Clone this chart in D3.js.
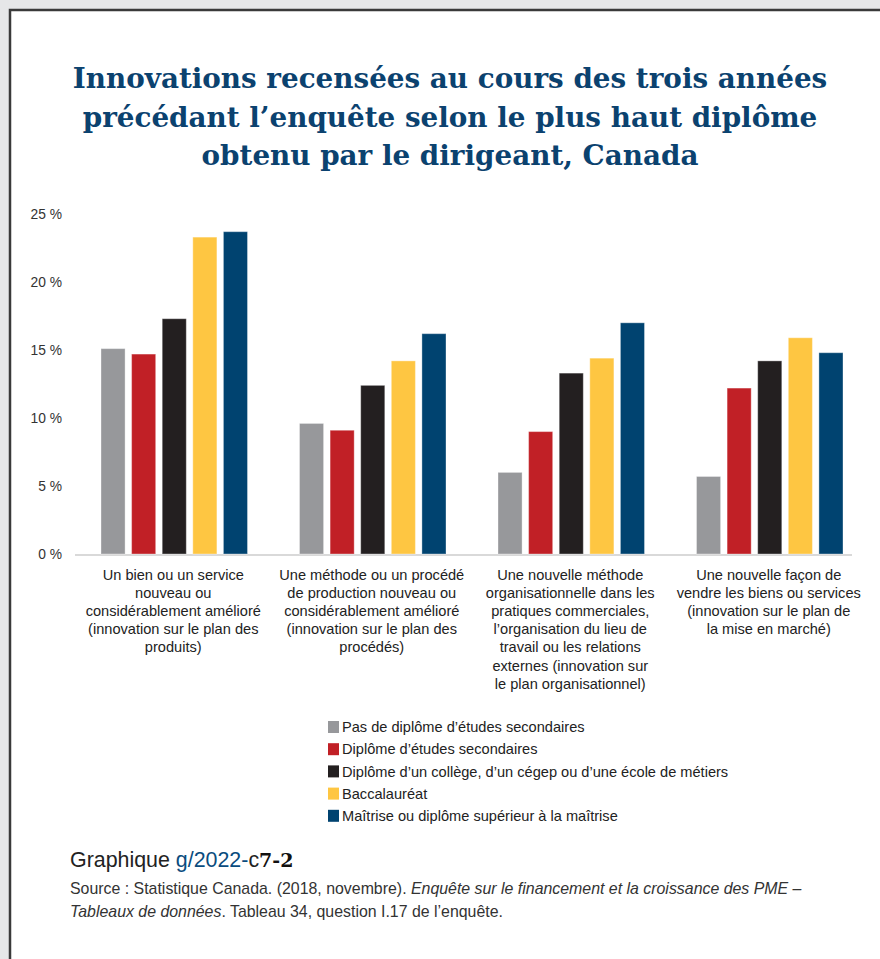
<!DOCTYPE html>
<html><head><meta charset="utf-8">
<script src="https://cdn.jsdelivr.net/npm/d3@7"></script>
<style>
html,body{margin:0;padding:0;background:#e6e7e8;}
svg{display:block;}
</style></head>
<body>
<svg id="c" width="880" height="959"></svg>
<script>
const titleLines = ["Innovations recensées au cours des trois années","précédant l’enquête selon le plus haut diplôme","obtenu par le dirigeant, Canada"];
const categories = [
 ["Un bien ou un service","nouveau ou","considérablement amélioré","(innovation sur le plan des","produits)"],
 ["Une méthode ou un procédé","de production nouveau ou","considérablement amélioré","(innovation sur le plan des","procédés)"],
 ["Une nouvelle méthode","organisationnelle dans les","pratiques commerciales,","l’organisation du lieu de","travail ou les relations","externes (innovation sur","le plan organisationnel)"],
 ["Une nouvelle façon de","vendre les biens ou services","(innovation sur le plan de","la mise en marché)"]
];
const seriesNames = ["Pas de diplôme d’études secondaires","Diplôme d’études secondaires","Diplôme d’un collège, d’un cégep ou d’une école de métiers","Baccalauréat","Maîtrise ou diplôme supérieur à la maîtrise"];
const seriesColors = ["#97989b","#c12026","#231f20","#fec642","#004370"];
const noDiploma   = [15.1, 9.6, 6.0, 5.7];
const secondary   = [14.7, 9.1, 9.0, 12.2];
const college     = [17.3, 12.4, 13.3, 14.2];
const bachelor    = [23.3, 14.2, 14.4, 15.9];
const master      = [23.7, 16.2, 17.0, 14.8];
const yTicks = [0,5,10,15,20,25];

const values = [noDiploma, secondary, college, bachelor, master];
const svg = d3.select("#c");
const SANS = "'Liberation Sans', Arial, sans-serif";
const NARROW = "'Liberation Sans Narrow','Arial Narrow','Liberation Sans', sans-serif";

// panel
svg.append("rect").attr("x",10).attr("y",10).attr("width",880).attr("height",960)
  .attr("fill","#fff").attr("stroke","#3a3a3a").attr("stroke-width",2.5);

// title
const tt = svg.append("g").selectAll("text").data(titleLines).join("text")
  .attr("x",450).attr("y",(d,i)=>88+i*38.5)
  .attr("text-anchor","middle")
  .attr("font-family","'DejaVu Serif', serif").attr("font-weight","bold")
  .attr("font-size",29).attr("fill","#0b426f")
  .text(d=>d);
const w0 = tt.nodes()[0].getComputedTextLength();
tt.attr("font-size",29*755/w0);

// scales
const y = d3.scaleLinear().domain([0,25]).range([554,214]);
const x0 = d3.scaleBand().domain(d3.range(categories.length)).range([75,869]);
const x1 = d3.scaleBand().domain(d3.range(seriesNames.length)).range([26,172.5]).paddingInner(0.213).paddingOuter(0);

// y axis labels
svg.append("g").selectAll("text").data(yTicks).join("text")
  .attr("x",62).attr("y",d=>y(d)).attr("dy","0.35em").attr("text-anchor","end")
  .attr("font-family",SANS).attr("font-size",13.8).attr("fill","#333")
  .text(d=>d+" %");

// axis line
svg.append("line").attr("x1",75).attr("x2",852).attr("y1",y(0)+1).attr("y2",y(0)+1)
  .attr("stroke","#d9d9d9").attr("stroke-width",2);

// bars
const g = svg.append("g");
categories.forEach((c,ci)=>{
  g.append("g").attr("transform",`translate(${x0(ci)},0)`)
   .selectAll("rect").data(values.map((s,si)=>({si,v:s[ci]}))).join("rect")
   .attr("x",d=>x1(d.si)).attr("width",x1.bandwidth())
   .attr("y",d=>y(d.v)).attr("height",d=>y(0)-y(d.v))
   .attr("fill",d=>seriesColors[d.si])
   .attr("stroke","rgba(255,255,255,0.35)").attr("stroke-width",1);
});

// category labels
categories.forEach((lines,ci)=>{
  const cx = x0(ci)+x0.bandwidth()/2 - 1;
  svg.append("text").attr("text-anchor","middle")
    .attr("font-family",SANS).attr("font-size",14.6).attr("fill","#222")
    .selectAll("tspan").data(lines).join("tspan")
    .attr("x",cx).attr("y",(d,i)=>580+i*18.1).text(d=>d);
});

// legend
const lg = svg.append("g");
seriesNames.forEach((n,i)=>{
  const yy = 727+i*22.2;
  lg.append("rect").attr("x",328).attr("y",yy-6).attr("width",11).attr("height",12).attr("fill",seriesColors[i]);
  lg.append("text").attr("x",342).attr("y",yy).attr("dy","0.35em")
    .attr("font-family",SANS).attr("font-size",14.6).attr("fill","#222").text(n);
});

// footer
const ft = svg.append("text").attr("x",70).attr("y",867)
  .attr("font-family",NARROW).attr("font-size",20).attr("fill","#222");
ft.append("tspan").text("Graphique ");
ft.append("tspan").attr("fill","#0a4c7e").text("g/2022-");
ft.append("tspan").text("c");
ft.append("tspan").attr("font-family","'DejaVu Serif', serif").attr("font-weight","900").attr("font-size",19).attr("fill","#111").text("7-2");
const fw = ft.node().getComputedTextLength();
ft.attr("font-size",20*226/fw);

const src = svg.append("text").attr("font-family",NARROW).attr("font-size",16).attr("fill","#333");
const l1 = src.append("tspan").attr("x",70).attr("y",894);
l1.append("tspan").text("Source : Statistique Canada. (2018, novembre). ");
l1.append("tspan").attr("font-style","italic").text("Enquête sur le financement et la croissance des PME –");
const l2 = src.append("tspan").attr("x",70).attr("y",917);
l2.append("tspan").attr("font-style","italic").text("Tableaux de données");
l2.append("tspan").text(". Tableau 34, question I.17 de l’enquête.");
// fit line 1 width to reference (~732px)
const bb = l1.node().getComputedTextLength ? l1.node().getComputedTextLength() : 732;
src.attr("font-size",Math.min(20,16*732/bb));
</script>
</body></html>
